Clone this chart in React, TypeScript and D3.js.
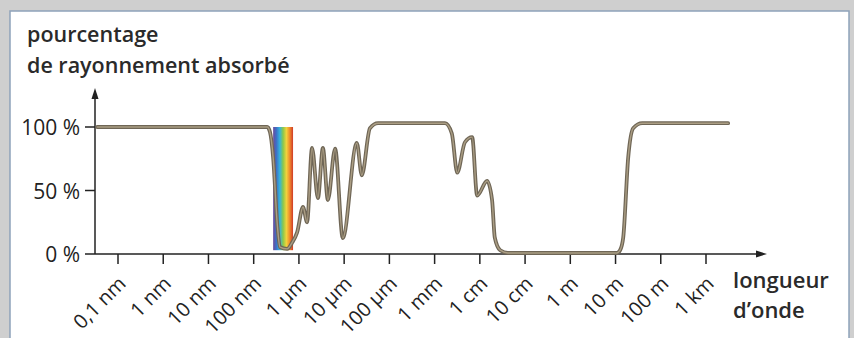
import React from "react";
import * as d3 from "d3";

// ---- data ----
const tickExponents = [-10, -9, -8, -7, -6, -5, -4, -3, -2, -1, 0, 1, 2, 3];
const tickLabels = ["0,1 nm", "1 nm", "10 nm", "100 nm", "1 µm", "10 µm", "100 µm", "1 mm", "1 cm", "10 cm", "1 m", "10 m", "100 m", "1 km"];
const yTickValues = [0, 50, 100];
const yTickLabels = ["0 %", "50 %", "100 %"];

// log10(wavelength / m) and absorbed percentage
const logWavelength = [
  -10.46, -6.7, -6.64, -6.57, -6.48, -6.42, -6.26, -6.15, -6.04, -5.91, -5.82, -5.71, -5.58, -5.47,
  -5.36, -5.2, -5.03, -4.72, -4.61, -4.43, -4.25, -2.77, -2.62, -2.5, -2.33, -2.17, -2.06, -1.84,
  -1.73, -1.67, -1.55, -1.38, 1.03, 1.1, 1.17, 1.28, 1.39, 1.59, 3.49,
];
const absorbed = [
  100, 100, 96, 76, 24, 5.5, 4, 9, 17, 37, 25, 83.5, 44, 83.5,
  42.5, 83, 12.6, 87.4, 62, 99, 103, 103, 95, 64, 88, 92, 46, 57.5,
  42.5, 13, 3, 0.8, 0.8, 3, 13, 76, 99, 103, 103,
];

const visibleRange = [-6.57, -6.13];
const visibleTop = 100;
const visibleBottom = 3;
const spectrumColors = ["#6b4a9c", "#3b72c8", "#35b4dc", "#8cc84a", "#f2d33c", "#f08a2c", "#cf3a28"];

// ---- layout ----
const W = 854;
const H = 338;
const axisX = 95;
const axisY = 254;
const xAxisEnd = 767;
const yAxisTop = 88;

export default function App() {
  const x = d3.scaleLinear().domain([-10, 3]).range([118, 706]);
  const y = d3.scaleLinear().domain([0, 100]).range([254, 127]);

  const pts = logWavelength.map((l, i) => [l, absorbed[i]] as [number, number]);
  const line = d3
    .line<[number, number]>()
    .x((d) => x(d[0]))
    .y((d) => y(d[1]))
    .curve(d3.curveMonotoneX);
  const pathD = line(pts) || "";

  const font = "'Open Sans', 'Noto Sans', sans-serif";

  return (
    <svg
      width={W}
      height={H}
      style={{ position: "absolute", left: 0, top: 0, display: "block" }}
      fontFamily={font}
    >
      <defs>
        <linearGradient id="spec" x1="0" x2="1" y1="0" y2="0">
          {spectrumColors.map((c, i) => (
            <stop key={i} offset={i / (spectrumColors.length - 1)} stopColor={c} />
          ))}
        </linearGradient>
      </defs>
      <rect x={0} y={0} width={W} height={H} fill="#cfcfcf" />
      <rect x={10} y={11} width={839} height={H} fill="#ffffff" stroke="#8ea3ba" strokeWidth={1.5} />

      {/* title */}
      <text x={27} y={42} fontSize={21.5} fontWeight={600} fill="#2a2a2a">pourcentage</text>
      <text x={27} y={73} fontSize={21.5} fontWeight={600} fill="#2a2a2a">de rayonnement absorbé</text>

      {/* visible spectrum */}
      <rect
        x={x(visibleRange[0])}
        y={y(visibleTop)}
        width={x(visibleRange[1]) - x(visibleRange[0])}
        height={y(visibleBottom) - y(visibleTop)}
        fill="url(#spec)"
      />

      {/* axes */}
      <line x1={axisX} y1={axisY} x2={xAxisEnd - 6} y2={axisY} stroke="#222" strokeWidth={1.5} />
      <path d={`M${xAxisEnd},${axisY} L${xAxisEnd - 11},${axisY - 3.5} L${xAxisEnd - 11},${axisY + 3.5} Z`} fill="#222" />
      <line x1={axisX} y1={axisY} x2={axisX} y2={yAxisTop + 6} stroke="#222" strokeWidth={1.5} />
      <path d={`M${axisX},${yAxisTop} L${axisX - 3.5},${yAxisTop + 11} L${axisX + 3.5},${yAxisTop + 11} Z`} fill="#222" />

      {yTickValues.map((v, i) => (
        <g key={v}>
          <line x1={axisX - 10} x2={axisX} y1={y(v)} y2={y(v)} stroke="#222" strokeWidth={1.5} />
          <text x={80} y={y(v) + 8} fontSize={21} textAnchor="end" fill="#222">
            {yTickLabels[i]}
          </text>
        </g>
      ))}

      {tickExponents.map((e, i) => (
        <g key={e}>
          <line x1={x(e)} x2={x(e)} y1={axisY} y2={axisY + 10} stroke="#222" strokeWidth={1.5} />
          <text
            transform={`translate(${x(e) + 9},${axisY + 31}) rotate(-45)`}
            fontSize={20}
            textAnchor="end"
            fill="#222"
          >
            {tickLabels[i]}
          </text>
        </g>
      ))}

      <text x={733} y={288} fontSize={22} fontWeight={600} fill="#2a2a2a">longueur</text>
      <text x={733} y={318} fontSize={22} fontWeight={600} fill="#2a2a2a">d’onde</text>

      {/* absorption curve */}
      <path d={pathD} fill="none" stroke="#6f6656" strokeWidth={3.8} strokeLinejoin="round" strokeLinecap="round" />
      <path d={pathD} fill="none" stroke="#ab9e84" strokeWidth={1.4} strokeLinejoin="round" strokeLinecap="round" />
    </svg>
  );
}
